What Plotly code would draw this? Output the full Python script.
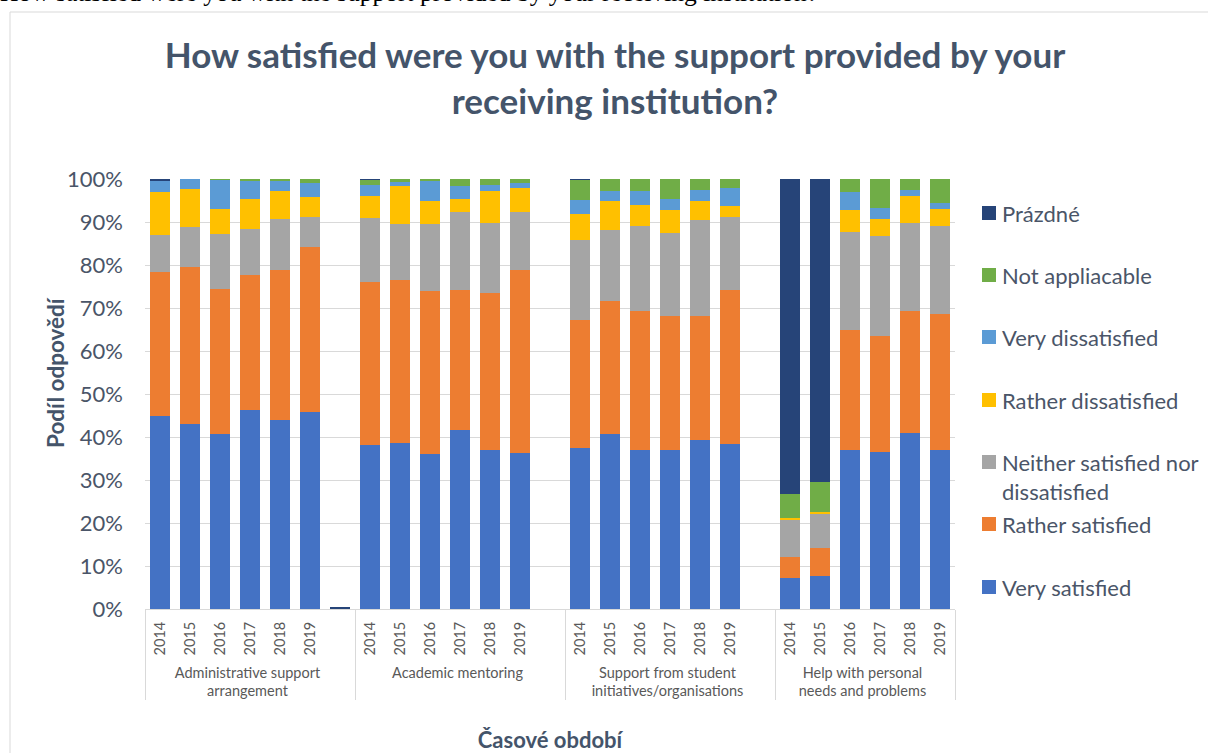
import plotly.graph_objects as go

# categories
groups = [
    "Administrative support<br>arrangement",
    "Academic mentoring",
    "Support from student<br>initiatives/organisations",
    "Help with personal<br>needs and problems",
]
years = ["2014", "2015", "2016", "2017", "2018", "2019"]
# first three groups carry one empty slot at the end (as in the source workbook)
blank_slot = [True, True, True, False]

# series values in % (None = empty slot)
very_satisfied = [45.0, 43.1, 40.8, 46.3, 43.9, 45.8, None,
                  38.1, 38.6, 36.0, 41.7, 37.0, 36.3, None,
                  37.5, 40.8, 37.0, 36.9, 39.2, 38.4, None,
                  7.3, 7.7, 36.9, 36.5, 41.0, 36.9]
rather_satisfied = [33.4, 36.4, 33.7, 31.3, 34.9, 38.5, None,
                    37.9, 37.8, 38.0, 32.4, 36.5, 42.6, None,
                    29.8, 30.8, 32.3, 31.2, 28.9, 35.9, None,
                    4.7, 6.4, 28.1, 26.9, 28.4, 31.8]
neither = [8.5, 9.3, 12.8, 10.8, 12.0, 6.9, None,
           15.0, 13.2, 15.6, 18.2, 16.3, 13.4, None,
           18.6, 16.6, 19.7, 19.3, 22.4, 16.9, None,
           8.8, 8.0, 22.7, 23.3, 20.4, 20.3]
rather_dissatisfied = [10.0, 8.9, 5.8, 6.9, 6.4, 4.5, None,
                       5.0, 8.8, 5.3, 3.1, 7.4, 5.5, None,
                       6.0, 6.8, 4.9, 5.3, 4.5, 2.5, None,
                       0.4, 0.5, 5.0, 4.1, 6.2, 4.1]
very_dissatisfied = [2.7, 2.3, 6.7, 4.4, 2.3, 3.4, None,
                     2.6, 0.9, 4.6, 2.9, 1.4, 1.3, None,
                     3.3, 2.2, 3.3, 2.7, 2.5, 4.3, None,
                     0.0, 0.0, 4.3, 2.5, 1.4, 1.3]
not_applicable = [0.0, 0.0, 0.3, 0.3, 0.5, 0.9, None,
                  1.2, 0.7, 0.5, 1.7, 1.4, 0.9, None,
                  4.6, 2.8, 2.8, 4.6, 2.5, 2.0, None,
                  5.5, 7.0, 3.0, 6.7, 2.6, 5.6]
prazdne = [0.4, 0.3, 0.3, 0.3, 0.3, 0.3, 0.4,
           0.3, 0.3, 0.3, 0.3, 0.3, 0.3, None,
           0.3, 0.3, 0.3, 0.3, 0.3, 0.3, None,
           73.3, 70.4, 0.3, 0.3, 0.3, 0.3]

series_names = ["Very satisfied", "Rather satisfied", "Neither satisfied nor<br>dissatisfied",
                "Rather dissatisfied", "Very dissatisfied", "Not appliacable", "Prázdné"]
series_values = [very_satisfied, rather_satisfied, neither, rather_dissatisfied,
                 very_dissatisfied, not_applicable, prazdne]
colors = ["#4472C4", "#ED7D31", "#A5A5A5", "#FFC000", "#5B9BD5", "#70AD47", "#264478"]

# x for the multicategory axis
x_group, x_year = [], []
for g, has_blank in zip(groups, blank_slot):
    for y in years + ([" "] if has_blank else []):
        x_group.append(g)
        x_year.append(y)

FONT = "Lato, 'Open Sans', sans-serif"
SLATE = "#44546A"
TEXT = "#4A5568"

W, H = 1208, 753
L, R, T, B = 145, 1208 - 955, 179, 753 - 609


def px_x(px):
    return (px - L) / (W - L - R)


def px_y(py):
    return (H - B - py) / (H - T - B)


fig = go.Figure()
for name, vals, col in zip(series_names, series_values, colors):
    fig.add_trace(go.Bar(x=[x_group, x_year], y=vals, name=name,
                         marker=dict(color=col, line=dict(width=0)),
                         showlegend=False))

# legend drawn by hand (Excel spacing)
legend_y = [587, 524, 462, 400, 337, 275, 213]
shapes = []
annotations = []
for name, col, ly in zip(series_names, colors, legend_y):
    shapes.append(dict(type="rect", xref="paper", yref="paper",
                       x0=px_x(982), x1=px_x(996), y0=px_y(ly + 7), y1=px_y(ly - 7),
                       fillcolor=col, line=dict(width=0)))
    multi = "<br>" in name
    annotations.append(dict(xref="paper", yref="paper", x=px_x(1000),
                            y=px_y(ly - 15) if multi else px_y(ly),
                            xanchor="left", yanchor="top" if multi else "middle",
                            align="left", text=name, showarrow=False,
                            font=dict(family=FONT, size=22, color=TEXT)))

# y axis title, placed where Excel put it (a bit above the plot centre)
annotations.append(dict(xref="paper", yref="paper", x=px_x(55), y=px_y(373),
                        xanchor="center", yanchor="middle", textangle=-90,
                        text="<b>Podíl odpovědí</b>", showarrow=False,
                        font=dict(family=FONT, size=22.5, color=SLATE)))

# chart frame and the cropped document caption above it
shapes.append(dict(type="rect", xref="paper", yref="paper",
                   x0=px_x(10), x1=px_x(1230), y0=px_y(12), y1=px_y(780),
                   line=dict(color="#D9D9D9", width=1), fillcolor="rgba(0,0,0,0)", layer="below"))
annotations.append(dict(xref="paper", yref="paper", x=px_x(-2), y=px_y(8.5),
                        xanchor="left", yanchor="bottom", showarrow=False,
                        text="How satisfied were you with the support provided by your receiving institution?",
                        font=dict(family="Liberation Serif", size=25.5, color="#000000")))

fig.update_layout(
    width=W, height=H,
    margin=dict(l=L, r=R, t=T, b=B, autoexpand=False),
    barmode="stack", bargap=0.36,
    plot_bgcolor="white", paper_bgcolor="white",
    font=dict(family=FONT, color=TEXT),
    title=dict(text="How satisfied were you with the support provided by your<br>receiving institution?",
               x=615 / W, xanchor="center", xref="container", y=1 - 68 / H, yanchor="top",
               font=dict(family=FONT, size=35, color=SLATE, weight="bold")),
    shapes=shapes, annotations=annotations,
    xaxis=dict(type="multicategory", tickangle=-90, ticklabelstandoff=6,
               tickfont=dict(family=FONT, size=14.5, color="#595959"),
               showline=True, linecolor="#D9D9D9", showgrid=False,
               showdividers=True, dividercolor="#D9D9D9", dividerwidth=1,
               ticks="", title=dict(text="Časové období", standoff=34,
                                    font=dict(family=FONT, size=22, color=SLATE, weight="bold"))),
    yaxis=dict(range=[0, 100], dtick=10, ticksuffix="%", gridcolor="#D9D9D9",
               zeroline=False, ticklabelstandoff=21,
               tickfont=dict(family=FONT, size=22, color=TEXT)),
)

# the page body's default 8px margin would shift the whole chart
fig.write_html("out.html", config={"displayModeBar": False},
               post_script="document.body.style.margin='0';")
